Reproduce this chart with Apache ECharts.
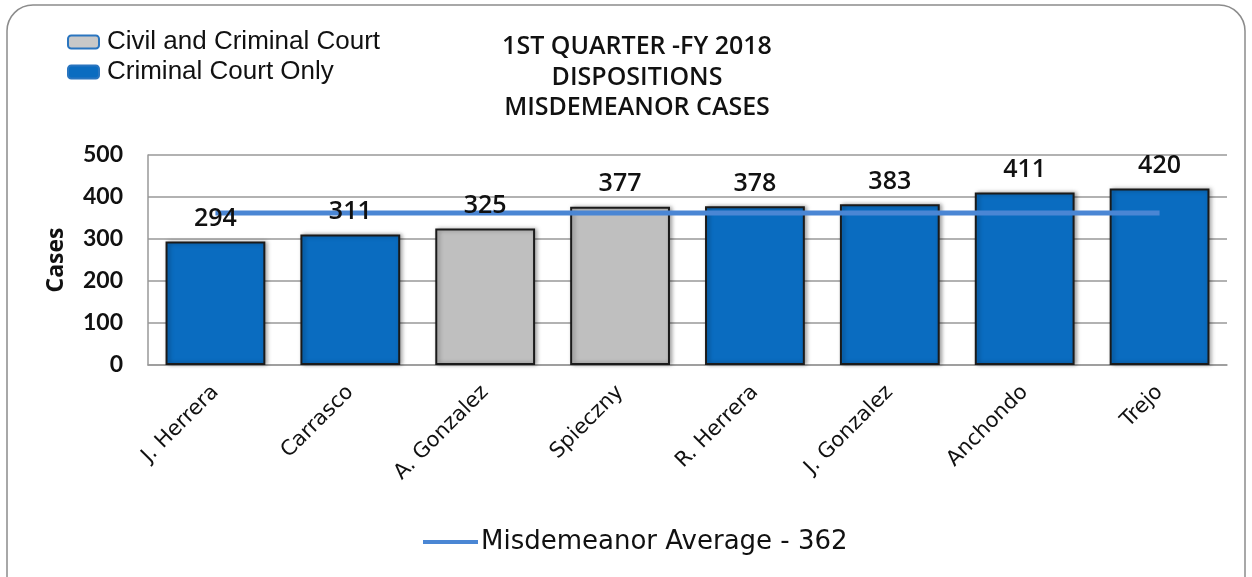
<!DOCTYPE html>
<html>
<head>
<meta charset="utf-8">
<script src="https://cdn.jsdelivr.net/npm/echarts@6/dist/echarts.min.js"></script>
<style>
html, body { margin: 0; padding: 0; background: #fff; }
#chart { width: 1252px; height: 577px; }
</style>
</head>
<body>
<div id="chart"></div>
<script>
var judges = ['J. Herrera', 'Carrasco', 'A. Gonzalez', 'Spieczny', 'R. Herrera', 'J. Gonzalez', 'Anchondo', 'Trejo'];
// civil and criminal (gray) vs criminal only (blue)
var civilCriminal = ['-', '-', 325, 377, '-', '-', '-', '-'];
var criminalOnly = [294, 311, '-', '-', 378, 383, 411, 420];
var averageValue = 362;
var averageLine = judges.map(function() { return averageValue; });
var yTicks = [0, 100, 200, 300, 400, 500];

// totals per judge, only used to put the value labels above the line
var totals = judges.map(function(j, i) {
	return civilCriminal[i] !== '-' ? civilCriminal[i] : criminalOnly[i];
});

var myChart = echarts.init(document.getElementById('chart'));

var barStyle = {
	borderColor: '#1a1a1a',
	borderWidth: 2,
	shadowColor: 'rgba(0,0,0,0.35)',
	shadowBlur: 4,
	shadowOffsetX: 2
};

var option = {
	animation: false,
	graphic: [{
		type: 'rect',
		shape: { x: 7, y: 5, width: 1238, height: 600, r: 26 },
		style: { fill: 'none', stroke: '#8c8c8c', lineWidth: 1.5 },
		z: -1
	}],
	title: {
		text: '1ST QUARTER -FY 2018\nDISPOSITIONS\nMISDEMEANOR CASES',
		left: 632,
		top: 27,
		textAlign: 'center',
		textStyle: {
			fontFamily: 'Open Sans',
			fontWeight: 600,
			fontSize: 25,
			lineHeight: 30.5,
			color: '#111'
		}
	},
	legend: [{
		data: [{
			name: 'Civil and Criminal Court',
			itemStyle: { color: '#c8c8c8', borderColor: '#2a75bf', borderWidth: 2 }
		}, {
			name: 'Criminal Court Only',
			itemStyle: { color: '#0a6cc0', borderColor: '#2a75bf', borderWidth: 2 }
		}],
		orient: 'vertical',
		left: 67,
		top: 29,
		padding: 0,
		itemWidth: 31,
		itemHeight: 13,
		itemGap: 4,
		icon: 'roundRect',
		textStyle: { fontFamily: 'Liberation Sans', fontSize: 26, color: '#111', padding: [0, 0, 0, 3] }
	}, {
		data: [{ name: 'Misdemeanor Average - 362', icon: 'rect' }],
		left: 423,
		top: 529,
		padding: 0,
		itemWidth: 55,
		itemHeight: 4,
		textStyle: { fontFamily: 'DejaVu Sans', fontSize: 26, color: '#111', padding: [0, 0, 0, -2] }
	}],
	grid: {
		left: 148,
		right: 25,
		top: 155,
		bottom: 212
	},
	xAxis: {
		type: 'category',
		data: judges,
		axisTick: { show: false },
		axisLine: { lineStyle: { color: '#999', width: 1.5 } },
		axisLabel: {
			rotate: 45,
			margin: 24,
			interval: 0,
			fontFamily: 'DejaVu Sans',
			fontSize: 21,
			color: '#111'
		}
	},
	yAxis: {
		type: 'value',
		min: 0,
		max: yTicks[yTicks.length - 1],
		interval: 100,
		name: 'Cases',
		nameLocation: 'middle',
		nameGap: 80,
		nameTextStyle: { fontFamily: 'Open Sans', fontWeight: 'bold', fontSize: 23, color: '#111' },
		axisLine: { show: true, lineStyle: { color: '#999', width: 1.5 } },
		axisTick: { show: false },
		splitLine: { lineStyle: { color: '#999', width: 1.5 } },
		axisLabel: {
			margin: 25,
			fontFamily: 'Lato',
			fontWeight: 'bold',
			fontSize: 23,
			color: '#111'
		}
	},
	series: [{
		name: 'Civil and Criminal Court',
		type: 'bar',
		stack: 'cases',
		barCategoryGap: '26%',
		data: civilCriminal,
		itemStyle: Object.assign({ color: '#bfbfbf' }, barStyle)
	}, {
		name: 'Criminal Court Only',
		type: 'bar',
		stack: 'cases',
		data: criminalOnly,
		itemStyle: Object.assign({ color: '#0a6cc0' }, barStyle)
	}, {
		name: 'Misdemeanor Average - 362',
		type: 'line',
		data: averageLine,
		symbol: 'none',
		z: 3,
		lineStyle: { color: '#4a86d4', width: 5 },
		itemStyle: { color: '#4a86d4' }
	}, {
		name: 'labels',
		type: 'bar',
		barGap: '-100%',
		data: totals,
		z: 4,
		silent: true,
		itemStyle: { color: 'rgba(0,0,0,0)' },
		label: {
			show: true,
			position: 'top',
			distance: 10,
			color: '#111',
			fontFamily: 'Open Sans',
			fontWeight: 600,
			fontSize: 25
		}
	}]
};
myChart.setOption(option);
</script>
</body>
</html>
